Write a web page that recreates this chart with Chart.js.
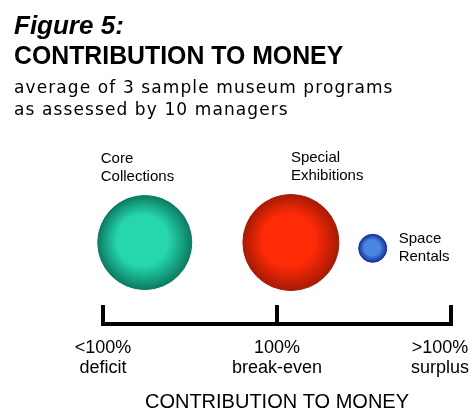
<!DOCTYPE html>
<html>
<head>
<meta charset="utf-8">
<script src="https://cdn.jsdelivr.net/npm/chart.js@4.4.1/dist/chart.umd.min.js"></script>
<style>
  html, body { margin: 0; padding: 0; background: #fff; }
  #wrap { position: relative; width: 473px; height: 414px; overflow: hidden; }
  #chart { position: absolute; left: 0; top: 0; }
  .hd { position: absolute; left: 14px; color: #000; white-space: nowrap; font-family: "Liberation Sans", Arial, sans-serif; }
  #fig { top: 10px; font-size: 26px; font-weight: bold; font-style: italic; }
  #ttl { top: 40px; font-size: 26px; font-weight: bold; transform: scaleX(0.955); transform-origin: left top; }
  .sub { font-family: "DejaVu Sans", sans-serif; font-size: 17px; letter-spacing: 1.1px; }
  #sub1 { top: 77px; }
  #sub2 { top: 99px; }
</style>
</head>
<body>
<div id="wrap">
  <canvas id="chart" width="473" height="414"></canvas>
  <div class="hd" id="fig">Figure 5:</div>
  <div class="hd" id="ttl">CONTRIBUTION TO MONEY</div>
  <div class="hd sub" id="sub1">average of 3 sample museum programs</div>
  <div class="hd sub" id="sub2">as assessed by 10 managers</div>
</div>
<script>
// === DATOS ===
const programas = [['Core', 'Collections'], ['Special', 'Exhibitions'], ['Space', 'Rentals']];
const contribucion = [-0.76, 0.08, 0.55];   // posición en el eje (-1 déficit, 0 equilibrio, 1 superávit)
const altura = [4.2, 4.2, 3.9];
const tamano = [47, 48, 14];
const tickValores = [-1, 0, 1];
const tickEtiquetas = [['<100%', 'deficit'], ['100%', 'break-even'], ['>100%', 'surplus']];

// colores [centro, borde]
const colores = [['#25d6ae', '#0b7c63'], ['#ff2a06', '#a81a04'], ['#4a86e0', '#1232a0']];
// dónde va cada etiqueta respecto a su burbuja
const posEtiqueta = ['arriba-izq', 'arriba-centro', 'derecha'];

function degradado(ctx) {
    const chart = ctx.chart;
    const i = ctx.dataIndex;
    if (i === undefined || !chart.chartArea) return colores[0][0];
    const x = chart.scales.x.getPixelForValue(contribucion[i]);
    const y = chart.scales.y.getPixelForValue(altura[i]);
    const r = tamano[i];
    const g = chart.ctx.createRadialGradient(x - r * 0.1, y - r * 0.1, 0, x, y, r);
    g.addColorStop(0, colores[i][0]);
    g.addColorStop(0.55, colores[i][0]);
    g.addColorStop(1, colores[i][1]);
    return g;
}

// etiquetas de burbujas y de ticks
const etiquetasPlugin = {
    id: 'etiquetas',
    afterDraw(chart) {
        const c = chart.ctx;
        const xs = chart.scales.x, ys = chart.scales.y;
        c.save();
        c.fillStyle = '#000';

        // nombres de los programas
        c.font = '15px "Liberation Sans", Arial, sans-serif';
        c.textBaseline = 'top';
        c.textAlign = 'left';
        programas.forEach((lineas, i) => {
            const x = xs.getPixelForValue(contribucion[i]);
            const y = ys.getPixelForValue(altura[i]);
            const r = tamano[i];
            let lx, ly;
            if (posEtiqueta[i] === 'arriba-izq') { lx = x - r + 3; ly = y - r - 44; }
            else if (posEtiqueta[i] === 'arriba-centro') { lx = x; ly = y - r - 44; }
            else { lx = x + r + 12; ly = y - 17; }
            lineas.forEach((t, k) => c.fillText(t, lx, ly + k * 18));
        });

        // etiquetas del eje
        c.font = '18px "Liberation Sans", Arial, sans-serif';
        c.textAlign = 'center';
        const top = xs.top + 15;
        xs.ticks.forEach(tk => {
            const idx = tickValores.indexOf(tk.value);
            if (idx < 0) return;
            let x = xs.getPixelForValue(tk.value);
            const w = Math.max(...tickEtiquetas[idx].map(t => c.measureText(t).width));
            if (x + w / 2 > chart.width - 4) x = chart.width - 4 - w / 2;
            tickEtiquetas[idx].forEach((t, k) => c.fillText(t, x, top + k * 20));
        });
        c.restore();
    }
};

new Chart(document.getElementById('chart'), {
    type: 'bubble',
    data: {
        datasets: [{
            data: contribucion.map((v, i) => ({ x: v, y: altura[i], r: tamano[i] })),
            backgroundColor: degradado,
            borderColor: (ctx) => colores[ctx.dataIndex] ? colores[ctx.dataIndex][1] : '#000',
            borderWidth: 1,
            hoverRadius: 0,
            clip: false
        }]
    },
    options: {
        responsive: false,
        animation: false,
        events: [],
        layout: { autoPadding: false, padding: { top: 130, left: 103, right: 22, bottom: 0 } },
        plugins: { legend: { display: false }, tooltip: { enabled: false } },
        scales: {
            x: {
                type: 'linear',
                min: -1, max: 1,
                afterBuildTicks: (s) => { s.ticks = tickValores.map(v => ({ value: v })); },
                ticks: { display: false },
                grid: { drawOnChartArea: false, drawTicks: true, tickLength: -19, lineWidth: 4, color: '#000' },
                border: { display: true, width: 4, color: '#000' },
                title: {
                    display: true,
                    text: 'CONTRIBUTION TO MONEY',
                    color: '#000',
                    font: { family: '"Liberation Sans", Arial, sans-serif', size: 20 },
                    padding: { top: 85, bottom: 0 }
                }
            },
            y: { display: false, min: 0, max: 10 }
        }
    },
    plugins: [etiquetasPlugin]
});
</script>
</body>
</html>
